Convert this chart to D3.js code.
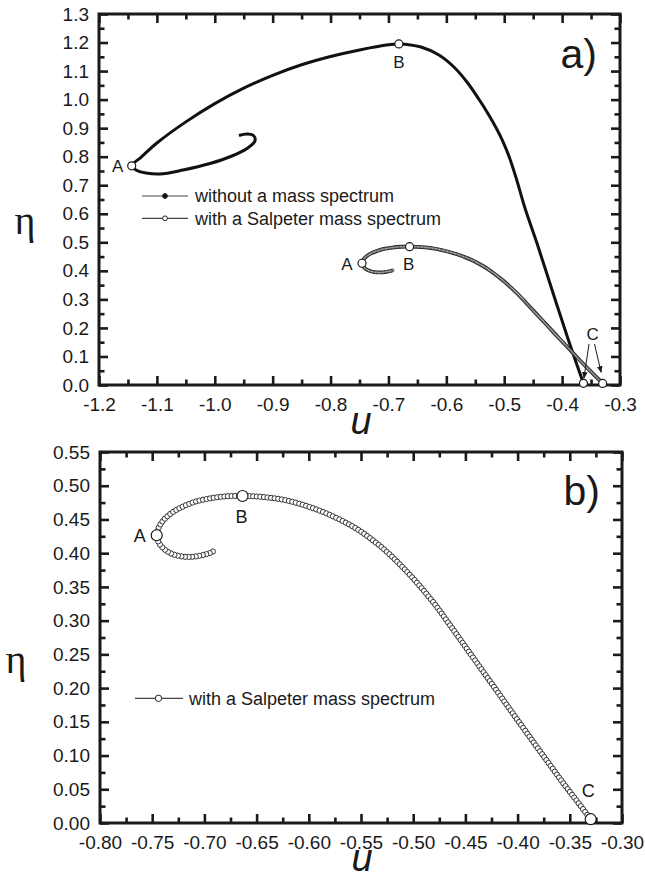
<!DOCTYPE html>
<html>
<head>
<meta charset="utf-8">
<script src="https://cdnjs.cloudflare.com/ajax/libs/d3/7.8.5/d3.min.js"></script>
<style>
  body { margin: 0; background: #fff; }
  text { font-family: "Liberation Sans", Arial, Helvetica, sans-serif; fill: #1a1a1a; }
</style>
</head>
<body>
<div id="chart"></div>
<script>
// curve without a mass spectrum, from the end of the spiral through A and B down to C
var plainU = [-0.9582, -0.9444, -0.9332, -0.9306, -0.9444, -0.9703, -1.0083, -1.0549, -1.0946, -1.1188, -1.1344,
  -1.1435, -1.128, -1.10, -1.05, -1.00, -0.95, -0.90, -0.85, -0.80, -0.75, -0.70,
  -0.682, -0.6439, -0.6128, -0.5869, -0.5644, -0.5428, -0.5282, -0.5143, -0.5022, -0.4910, -0.4789,
  -0.4642, -0.4435, -0.4168, -0.3900, -0.3632]
var plainEta = [0.8742, 0.8795, 0.8742, 0.8549, 0.8287, 0.8024, 0.7761, 0.7533, 0.7393, 0.7428, 0.7516,
  0.768, 0.797, 0.848, 0.922, 0.986, 1.040, 1.085, 1.122, 1.151, 1.174, 1.192,
  1.195, 1.1843, 1.1563, 1.1142, 1.0617, 0.9986, 0.9513, 0.9022, 0.8532, 0.7971, 0.7218,
  0.6202, 0.4975, 0.3294, 0.1629, 0.006]

// curve with a Salpeter mass spectrum, same order
var salpU = [-0.6918, -0.6946, -0.7033, -0.7138, -0.7243, -0.7330, -0.7397, -0.7440,
  -0.7457, -0.7430, -0.7377, -0.7301, -0.7205, -0.7080, -0.6937, -0.6784,
  -0.6635, -0.6501, -0.6367, -0.6233, -0.6099, -0.5965, -0.5830, -0.5696, -0.5562, -0.5428,
  -0.5294, -0.5160, -0.5026, -0.4892, -0.4775, -0.4628, -0.4456, -0.4264, -0.4073, -0.3881,
  -0.3690, -0.3546, -0.3421, -0.3300]
var salpEta = [0.4025, 0.4003, 0.3966, 0.3944, 0.3959, 0.4003, 0.4077, 0.4166,
  0.4266, 0.4403, 0.4514, 0.4611, 0.4692, 0.4767, 0.4815, 0.4844,
  0.4848, 0.4841, 0.4821, 0.4789, 0.4737, 0.4670, 0.4589, 0.4492, 0.4381, 0.4240,
  0.4077, 0.3884, 0.3669, 0.3432, 0.3207, 0.2891, 0.2517, 0.2101, 0.1684, 0.1269,
  0.0860, 0.0556, 0.0304, 0.0056]

// labelled points
var keyNames = ["A", "B", "C"]
var plainKeyU = [-1.1435, -0.682, -0.3632]
var plainKeyEta = [0.768, 1.195, 0.006]
var salpKeyU = [-0.7457, -0.6635, -0.330]
var salpKeyEta = [0.4266, 0.4848, 0.0056]

// ticks
var topXTicks = [-1.2, -1.1, -1.0, -0.9, -0.8, -0.7, -0.6, -0.5, -0.4, -0.3]
var topYTicks = [0.0, 0.1, 0.2, 0.3, 0.4, 0.5, 0.6, 0.7, 0.8, 0.9, 1.0, 1.1, 1.2, 1.3]
var botXTicks = [-0.80, -0.75, -0.70, -0.65, -0.60, -0.55, -0.50, -0.45, -0.40, -0.35, -0.30]
var botYTicks = [0.00, 0.05, 0.10, 0.15, 0.20, 0.25, 0.30, 0.35, 0.40, 0.45, 0.50, 0.55]

var legendTop = ["without a mass spectrum", "with a Salpeter mass spectrum"]
var legendBot = ["with a Salpeter mass spectrum"]

var W = 645, H = 881
var ink = "#1a1a1a"

var svg = d3.select("#chart").append("svg")
    .attr("width", W)
    .attr("height", H)

svg.append("defs").append("marker")
    .attr("id", "arrow")
    .attr("viewBox", "0 0 10 10")
    .attr("refX", 9).attr("refY", 5)
    .attr("markerWidth", 7).attr("markerHeight", 7)
    .attr("orient", "auto")
  .append("path")
    .attr("d", "M0,1 L10,5 L0,9 Z")
    .attr("fill", ink)

function zip(us, es) {
  return us.map(function(u, i) { return {u: u, eta: es[i]} })
}

// plain hyphen instead of the unicode minus d3 uses
function fmtWith(spec) {
  var f = d3.format(spec)
  return function(v) { return f(v).replace("\u2212", "-") }
}

// midpoints between major ticks
function minors(ticks) {
  var out = []
  for (var i = 0; i < ticks.length - 1; i++) out.push((ticks[i] + ticks[i + 1]) / 2)
  return out
}

// draws the frame, the inward ticks on all four sides and the tick labels
function frame(g, x, y, xt, yt, fmt) {
  var x0 = x.range()[0], x1 = x.range()[1], y0 = y.range()[0], y1 = y.range()[1]
  var sides = [
    [d3.axisBottom(x), "translate(0," + y0 + ")", xt],
    [d3.axisTop(x), "translate(0," + y1 + ")", xt],
    [d3.axisLeft(y), "translate(" + x0 + ",0)", yt],
    [d3.axisRight(y), "translate(" + x1 + ",0)", yt]
  ]
  sides.forEach(function(s) {
    [[s[2], 9], [minors(s[2]), 5.5]].forEach(function(t) {
      var a = g.append("g").attr("transform", s[1])
        .call(s[0].tickValues(t[0]).tickSize(-t[1]).tickFormat(""))
      a.select(".domain").remove()
      a.selectAll("line").attr("stroke", ink).attr("stroke-width", 2.6)
    })
  })

  var bx = g.append("g").attr("transform", "translate(0," + y0 + ")")
    .call(d3.axisBottom(x).tickValues(xt).tickSize(0).tickPadding(13).tickFormat(fmt))
  bx.select(".domain").remove()
  var ly = g.append("g").attr("transform", "translate(" + x0 + ",0)")
    .call(d3.axisLeft(y).tickValues(yt).tickSize(0).tickPadding(10).tickFormat(fmt))
  ly.select(".domain").remove()
  g.selectAll(".tick text").attr("font-size", 19).attr("fill", ink)
    .style("font-family", "'Liberation Sans', Arial, sans-serif")

  g.append("rect")
    .attr("x", x0).attr("y", y1)
    .attr("width", x1 - x0).attr("height", y0 - y1)
    .attr("fill", "none").attr("stroke", ink).attr("stroke-width", 3)
}

// open circles strung along a path
function beads(g, d, step, r, sw, stroke) {
  var p = g.append("path").attr("d", d).attr("fill", "none").attr("stroke", "none")
  var node = p.node(), len = node.getTotalLength()
  var pts = d3.range(0, len, step).map(function(s) { return node.getPointAtLength(s) })
  g.selectAll(null).data(pts).enter().append("circle")
    .attr("cx", function(p) { return p.x })
    .attr("cy", function(p) { return p.y })
    .attr("r", r)
    .attr("fill", "#fff")
    .attr("stroke", stroke)
    .attr("stroke-width", sw)
}

function keyPoints(g, x, y, us, es, r) {
  g.selectAll(null).data(zip(us, es)).enter().append("circle")
    .attr("cx", function(d) { return x(d.u) })
    .attr("cy", function(d) { return y(d.eta) })
    .attr("r", r)
    .attr("fill", "#fff")
    .attr("stroke", ink)
    .attr("stroke-width", 1.2)
}

function label(g, px, py, txt, size) {
  g.append("text").attr("x", px).attr("y", py)
    .attr("text-anchor", "middle").attr("font-size", size).text(txt)
}

// ---------------- panel a ----------------
var xa = d3.scaleLinear().domain([-1.2, -0.3]).range([99, 620])
var ya = d3.scaleLinear().domain([0, 1.3]).range([385, 14])
var ga = svg.append("g")

var lineA = d3.line()
    .x(function(d) { return xa(d.u) })
    .y(function(d) { return ya(d.eta) })
    .curve(d3.curveCatmullRom.alpha(0.5))

ga.append("path")
    .attr("d", lineA(zip(plainU, plainEta)))
    .attr("fill", "none").attr("stroke", "#111").attr("stroke-width", 3)

ga.append("path")
    .attr("d", lineA(zip(salpU, salpEta)))
    .attr("fill", "none").attr("stroke", "#2a2a2a").attr("stroke-width", 3.8)
beads(ga, lineA(zip(salpU, salpEta)), 1.4, 1.0, 0.6, "#2a2a2a")

frame(ga, xa, ya, topXTicks, topYTicks, fmtWith(".1f"))

keyPoints(ga, xa, ya, plainKeyU, plainKeyEta, 4)
keyPoints(ga, xa, ya, salpKeyU, salpKeyEta, 4)

label(ga, xa(plainKeyU[0]) - 14, ya(plainKeyEta[0]) + 6.5, keyNames[0], 17)
label(ga, xa(plainKeyU[1]), ya(plainKeyEta[1]) + 24, keyNames[1], 17)
label(ga, xa(salpKeyU[0]) - 15, ya(salpKeyEta[0]) + 6.5, keyNames[0], 17)
label(ga, xa(salpKeyU[1]) - 1, ya(salpKeyEta[1]) + 23, keyNames[1], 17)
label(ga, 592.7, 339.5, keyNames[2], 17)

// arrows from C to both end points
ga.append("line")
    .attr("x1", 589).attr("y1", 344)
    .attr("x2", xa(plainKeyU[2]) + 0.5).attr("y2", ya(plainKeyEta[2]) - 5)
    .attr("stroke", ink).attr("stroke-width", 1).attr("marker-end", "url(#arrow)")
ga.append("line")
    .attr("x1", 594.5).attr("y1", 344)
    .attr("x2", xa(salpKeyU[2]) - 1.5).attr("y2", ya(salpKeyEta[2]) - 11)
    .attr("stroke", ink).attr("stroke-width", 1).attr("marker-end", "url(#arrow)")

// legend a
var legA = ga.append("g")
legendTop.forEach(function(t, i) {
  var ly = 196 + i * 22.3
  legA.append("line").attr("x1", 142).attr("x2", 188).attr("y1", ly).attr("y2", ly)
    .attr("stroke", "#444").attr("stroke-width", 1.2)
  legA.append("circle").attr("cx", 165).attr("cy", ly).attr("r", 2.4)
    .attr("fill", i == 0 ? "#111" : "#fff").attr("stroke", "#222").attr("stroke-width", 1)
  legA.append("text").attr("x", 195).attr("y", ly).attr("dy", "0.35em")
    .attr("font-size", 18).text(t)
})

ga.append("text").attr("x", 597).attr("y", 68).attr("text-anchor", "end")
    .attr("font-size", 41).text("a)")
ga.append("text").attr("x", 25).attr("y", 234).attr("text-anchor", "middle")
    .attr("font-size", 40).style("font-family", "'Liberation Serif', 'DejaVu Serif', serif").text("η")
ga.append("text").attr("x", 361).attr("y", 434).attr("text-anchor", "middle")
    .attr("font-size", 38).attr("font-style", "italic").text("u")

// ---------------- panel b ----------------
var xb = d3.scaleLinear().domain([-0.8, -0.3]).range([100, 622])
var yb = d3.scaleLinear().domain([0, 0.55]).range([823, 452])
var gb = svg.append("g")

var lineB = d3.line()
    .x(function(d) { return xb(d.u) })
    .y(function(d) { return yb(d.eta) })
    .curve(d3.curveCatmullRom.alpha(0.5))

gb.append("path")
    .attr("d", lineB(zip(salpU, salpEta)))
    .attr("fill", "none").attr("stroke", "#333").attr("stroke-width", 1)
beads(gb, lineB(zip(salpU, salpEta)), 3.6, 2.6, 1, "#333")

frame(gb, xb, yb, botXTicks, botYTicks, fmtWith(".2f"))

keyPoints(gb, xb, yb, salpKeyU, salpKeyEta, 5.5)
label(gb, xb(salpKeyU[0]) - 17, yb(salpKeyEta[0]) + 6.5, keyNames[0], 18)
label(gb, xb(salpKeyU[1]) - 1, yb(salpKeyEta[1]) + 27, keyNames[1], 18)
label(gb, xb(salpKeyU[2]) - 2.5, yb(salpKeyEta[2]) - 22, keyNames[2], 18)

legendBot.forEach(function(t) {
  var ly = 698.3
  gb.append("line").attr("x1", 135).attr("x2", 183).attr("y1", ly).attr("y2", ly)
    .attr("stroke", "#444").attr("stroke-width", 1.2)
  gb.append("circle").attr("cx", 158.5).attr("cy", ly).attr("r", 3.2)
    .attr("fill", "#fff").attr("stroke", "#222").attr("stroke-width", 1)
  gb.append("text").attr("x", 189).attr("y", ly).attr("dy", "0.35em")
    .attr("font-size", 18).text(t)
})

gb.append("text").attr("x", 600).attr("y", 505).attr("text-anchor", "end")
    .attr("font-size", 41).text("b)")
gb.append("text").attr("x", 16).attr("y", 673).attr("text-anchor", "middle")
    .attr("font-size", 40).style("font-family", "'Liberation Serif', 'DejaVu Serif', serif").text("η")
gb.append("text").attr("x", 362).attr("y", 871).attr("text-anchor", "middle")
    .attr("font-size", 38).attr("font-style", "italic").text("u")
</script>
</body>
</html>
